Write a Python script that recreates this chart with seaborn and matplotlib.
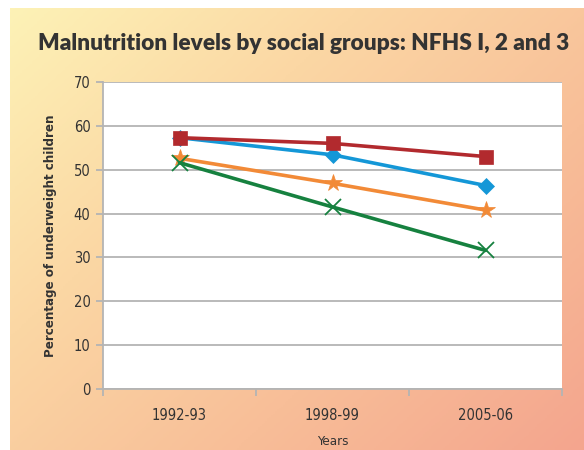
import numpy as np
import pandas as pd
import seaborn as sns
import matplotlib.pyplot as plt
from matplotlib.colors import LinearSegmentedColormap

years = ["1992-93", "1998-99", "2005-06"]
groups = ["Other Backward Classes", "Others", "Scheduled Castes", "Scheduled Tribes"]
obc_vals = [52.6, 46.9, 40.8]
oth_vals = [51.6, 41.5, 31.6]
sc_vals = [57.3, 53.4, 46.4]
st_vals = [57.3, 56.0, 53.0]

colors = ["#F28A37", "#16813F", "#1497D7", "#B22A2E"]
markers = ["*", "x", "D", "s"]
msizes = [13, 11, 8.5, 10]

df = pd.DataFrame({
    "Years": years * 4,
    "value": obc_vals + oth_vals + sc_vals + st_vals,
    "group": np.repeat(groups, 3),
})

sns.set_style("white")
plt.rcParams["font.family"] = ["DejaVu Sans"]
plt.rcParams["font.stretch"] = "condensed"

fig = plt.figure(figsize=(5.84, 4.5), dpi=100)

# gradient background (leaves a thin white border top/left)
bg = fig.add_axes([10 / 584, 0, 1 - 10 / 584, 1 - 8 / 450], zorder=-10)
cmap = LinearSegmentedColormap.from_list(
    "bg", ["#FDF2B6", "#FBD7A4", "#F8BE98", "#F4A58E"])
gx, gy = np.meshgrid(np.linspace(0, 1, 300), np.linspace(0, 1, 300))
bg.imshow(0.55 * gx + 0.45 * gy, cmap=cmap, aspect="auto", extent=[0, 1, 1, 0])
bg.axis("off")

ax = fig.add_axes([103 / 584, 1 - 389 / 450, 459 / 584, 307 / 450])
ax.set_facecolor("white")

for g, c, m, s in zip(groups, colors, markers, msizes):
    sub = df[df["group"] == g]
    sns.lineplot(data=sub, x="Years", y="value", ax=ax, color=c, linewidth=2.6,
                 marker=m, markersize=s, markeredgecolor=c,
                 markeredgewidth=1.3 if m == "x" else 0.5, legend=False)

ax.set_xlim(-0.5, 2.5)
ax.set_ylim(0, 70)
ax.set_yticks(range(0, 71, 10))
ax.set_xticks(range(3))
ax.set_xticklabels(years)
ax.set_xticks([-0.5, 0.5, 1.5, 2.5], minor=True)
ax.grid(axis="y", color="#B4B4B4", linewidth=1.3)
ax.set_axisbelow(True)
for side in ["top", "right"]:
    ax.spines[side].set_visible(False)
for side in ["left", "bottom"]:
    ax.spines[side].set_color("#B4B4B4")
    ax.spines[side].set_linewidth(1.3)

ax.tick_params(axis="y", length=5, width=1.3, color="#B4B4B4", labelsize=10.5,
               labelcolor="#333333", pad=4, left=True)
ax.tick_params(axis="x", which="major", length=0, labelsize=10.5,
               labelcolor="#333333", pad=14)
ax.tick_params(axis="x", which="minor", length=5, width=1.3, color="#B4B4B4",
               bottom=True, direction="out")

ax.set_xlabel("Years", fontsize=9.5, color="#333333", labelpad=8)
ax.set_ylabel("Percentage of underweight children", fontsize=9.5,
              fontweight="bold", color="#333333", labelpad=12)

fig.text(0.52, 1 - 44 / 450, "Malnutrition levels by social groups: NFHS I, 2 and 3",
         ha="center", va="center", fontsize=16.3, fontweight="heavy",
         color="#333333", family=["Lato", "DejaVu Sans"], stretch="normal")

fig.savefig("out.png", dpi=100)
